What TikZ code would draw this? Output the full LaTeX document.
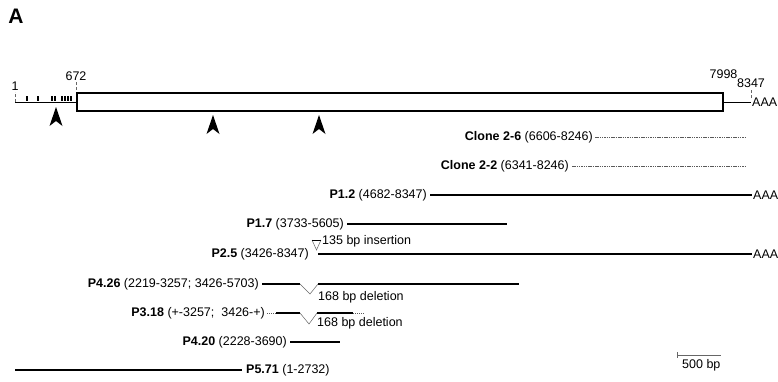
\documentclass[tikz,border=0pt]{standalone}
\usepackage{fontspec}
\setmainfont{Liberation Sans}
\usetikzlibrary{positioning}

\begin{document}
\begin{tikzpicture}[
    x=1pt, y=-1pt,
    node distance=2pt,
    lbl/.style={font=\fontsize{12.5}{14}\selectfont, inner sep=0pt},
    cdna/.style={line width=1.4pt},
    utrline/.style={line width=1pt},
    clone/.style={line width=0.8pt, dash pattern=on 1.5pt off 0.8pt, black!65},
    dotend/.style={line width=0.8pt, dash pattern=on 1pt off 1pt, black!65},
    gapline/.style={line width=0.5pt, black!60},
    tickmark/.style={line width=0.5pt, densely dashed, black!60},
    orfbox/.style={draw, line width=1.5pt, minimum width=646pt, minimum height=18pt, inner sep=0pt, anchor=west}
]
\useasboundingbox (0,0) rectangle (778,381);

\node[font=\bfseries\fontsize{21}{23}\selectfont, inner sep=0pt] (panel) at (16,16) {A};

% Transkript
\coordinate (s1) at (15,102);
\coordinate (s672) at (76,102);
\node[orfbox] (orf) at (s672) {};
\coordinate (s8347) at (751,102);
\draw[utrline] (s1) -- (orf.west);
\draw[utrline] (orf.east) -- (s8347);
\foreach \mx in {27,38,52,55,62,65,68,71}
    \draw[line width=1.6pt] (\mx,96) -- (\mx,101);

% Positionen
\coordinate (t1) at (15,92);
\coordinate (t672) at (76,82);
\coordinate (t8347) at (751,90);
\draw[tickmark] (s1) -- (t1);
\draw[tickmark] (76,90) -- (t672);
\draw[tickmark] (751,98) -- (t8347);
\node[lbl, above=1pt of t1] (n1) {1};
\node[lbl, above=1pt of t672] (n672) {672};
\node[lbl, above=13pt of orf.north east] (n7998) {7998};
\node[lbl, above=2pt of t8347] (n8347) {8347};
\node[lbl, right=1pt of s8347] (polyA) {AAA};

% Pfeile
\foreach \ax/\ay in {56/107, 213/115, 319/115}
    \fill (\ax,\ay) -- ++(6.5,19) -- ++(-6.5,-5) -- ++(-6.5,5) -- cycle;

% Klone
\coordinate (c26a) at (595,137);
\coordinate (c26b) at (745,137);
\draw[clone] (c26a) -- (c26b);
\node[lbl, left=2pt of c26a] (c26) {\textbf{Clone 2-6} (6606-8246)};

\coordinate (c22a) at (572,166);
\coordinate (c22b) at (745,166);
\draw[clone] (c22a) -- (c22b);
\node[lbl, left=3pt of c22a] (c22) {\textbf{Clone 2-2} (6341-8246)};

\coordinate (p12a) at (430,195);
\coordinate (p12b) at (752,195);
\draw[cdna] (p12a) -- (p12b);
\node[lbl, left=3pt of p12a] (p12) {\textbf{P1.2} (4682-8347)};
\node[lbl, right=1pt of p12b] (p12A) {AAA};

\coordinate (p17a) at (347,224);
\coordinate (p17b) at (507,224);
\draw[cdna] (p17a) -- (p17b);
\node[lbl, left=3pt of p17a] (p17) {\textbf{P1.7} (3733-5605)};

\coordinate (p25a) at (318,254);
\coordinate (p25b) at (752,254);
\coordinate (ins) at (316.5,250);
\draw[cdna] (p25a) -- (p25b);
\draw[gapline] (312,240) -- (ins) -- (321,240);
\draw[line width=1pt] (312,240) -- (321,240);
\node[lbl, left=9pt of p25a] (p25) {\textbf{P2.5} (3426-8347)};
\node[lbl, right=1pt of p25b] (p25A) {AAA};
\node[lbl, anchor=west] (insl) at (322,241) {135 bp insertion};

\coordinate (p426a) at (262,284);
\coordinate (p426b) at (300,284);
\coordinate (p426c) at (318,284);
\coordinate (p426d) at (519,284);
\coordinate (del1) at (310,294);
\draw[cdna] (p426a) -- (p426b);
\draw[gapline] (p426b) -- (del1) -- (p426c);
\draw[cdna] (p426c) -- (p426d);
\node[lbl, left=3pt of p426a] (p426) {\textbf{P4.26} (2219-3257; 3426-5703)};
\node[lbl, anchor=west] (dell1) at (318,297) {168 bp deletion};

\coordinate (p318a) at (267,313);
\coordinate (p318b) at (276,313);
\coordinate (p318c) at (300,313);
\coordinate (p318d) at (317,313);
\coordinate (p318e) at (353,313);
\coordinate (p318f) at (365,313);
\coordinate (del2) at (309,324);
\draw[dotend] (p318a) -- (p318b);
\draw[cdna] (p318b) -- (p318c);
\draw[gapline] (p318c) -- (del2) -- (p318d);
\draw[cdna] (p318d) -- (p318e);
\draw[dotend] (p318e) -- (p318f);
\node[lbl, left=2pt of p318a] (p318) {\textbf{P3.18} (+-3257;\ \ 3426-+)};
\node[lbl, anchor=west] (dell2) at (317,323) {168 bp deletion};

\coordinate (p420a) at (290,342);
\coordinate (p420b) at (340,342);
\draw[cdna] (p420a) -- (p420b);
\node[lbl, left=3pt of p420a] (p420) {\textbf{P4.20} (2228-3690)};

\coordinate (p571a) at (15,370);
\coordinate (p571b) at (242,370);
\draw[cdna] (p571a) -- (p571b);
\node[lbl, right=4pt of p571b] (p571) {\textbf{P5.71} (1-2732)};

% Massstab
\coordinate (sb1) at (677,355);
\coordinate (sb2) at (721,355);
\draw[gapline] (sb1) -- (sb2);
\draw[gapline] (677,352) -- (677,358);
\node[lbl, below=4pt of sb1, anchor=north west, xshift=5pt] (sbl) {500 bp};

\end{tikzpicture}
\end{document}
